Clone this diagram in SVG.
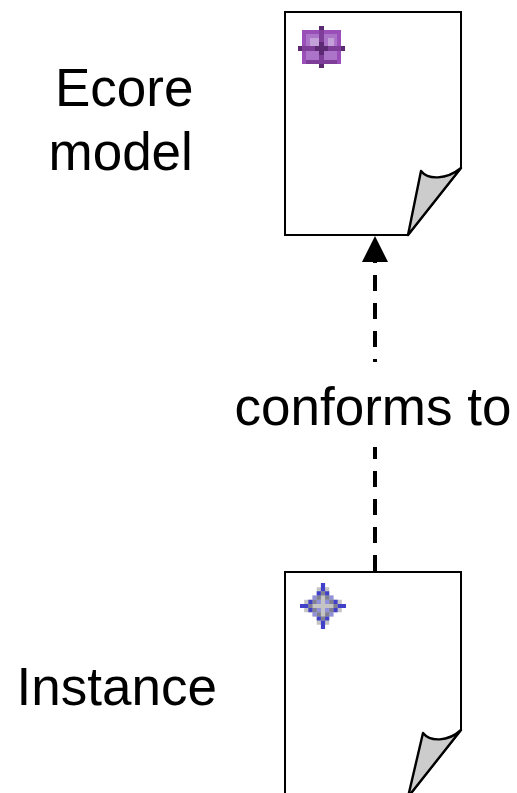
<svg xmlns="http://www.w3.org/2000/svg" width="517" height="793" viewBox="0 0 517 793">
<style>
.lbl{font-family:"Liberation Sans",Arial,sans-serif;font-size:53px;fill:#000}
.page{fill:#fff;stroke:#000;stroke-width:2;stroke-linejoin:miter}
.fold{fill:#ccc;stroke:#000;stroke-width:2.4;stroke-linejoin:round}
.conn{fill:none;stroke:#000;stroke-width:4;stroke-dasharray:16 12}
.pd{fill:#5b2a72}.pm{fill:#7e3d98}.pb{fill:#9a4fb8}.pl{fill:#ac74c8}.pc{fill:#c4a0d8}
.bb{fill:#4040c8}.bg{fill:#808090}.bv{fill:#9090dc}.bl{fill:#c4c4c4}
</style>
<rect width="517" height="793" fill="#fff"/>
<g id="connectors">
<path class="conn" d="M375 571V261"/>
<rect x="225" y="362" width="292" height="85" fill="#fff"/>
<path d="M375 236L388 262H362Z" fill="#000"/>
</g>
<g id="ecore-model">
<path class="page" d="M285 12H461V168L408 235H285Z"/>
<path class="fold" d="M408 235L421 171C428 180 446 180 461 168Z"/>
<g>
<rect class="pb" x="302" y="30" width="39" height="34"/>
<rect class="pl" x="306" y="34" width="13" height="12"/>
<rect class="pl" x="324" y="34" width="13" height="12"/>
<rect class="pl" x="306" y="51" width="13" height="9"/>
<rect class="pl" x="324" y="51" width="13" height="9"/>
<rect class="pc" x="310" y="38" width="9" height="8"/>
<rect class="pc" x="328" y="38" width="6" height="8"/>
<rect class="pm" x="306" y="60" width="31" height="4"/>
<rect class="pm" x="302" y="46" width="39" height="5"/>
<rect class="pm" x="319" y="30" width="5" height="34"/>
<rect class="pd" x="298" y="46" width="4" height="5"/>
<rect class="pd" x="341" y="46" width="4" height="5"/>
<rect class="pd" x="319" y="26" width="5" height="4"/>
<rect class="pd" x="319" y="64" width="5" height="4"/>
<rect class="pd" x="315" y="46" width="13" height="5"/>
<rect class="pd" x="319" y="42" width="5" height="13"/>
</g>
<text class="lbl" x="55" y="105.5">Ecore</text>
<text class="lbl" x="48.5" y="169.5">model</text>
</g>
<g id="instance">
<path class="page" d="M285 572H461V730L408 797H285Z"/>
<path class="fold" d="M408 797L423 733C430 742 448 742 461 730Z"/>
<g transform="translate(300 583) scale(4.18)">
<path class="bl" d="M3 3h5v5h-5zM4 1h3v2h-3zM4 8h3v2h-3zM1 4h2v3h-2zM8 4h2v3h-2z"/>
<path class="bv" d="M3 3h1v1h-1zM7 3h1v1h-1zM4 4h1v1h-1zM6 4h1v1h-1zM4 6h1v1h-1zM6 6h1v1h-1zM3 7h1v1h-1zM7 7h1v1h-1z"/>
<path class="bg" d="M5 2h1v1h-1zM4 3h1v1h-1zM6 3h1v1h-1zM3 4h1v1h-1zM7 4h1v1h-1zM2 5h1v1h-1zM8 5h1v1h-1zM3 6h1v1h-1zM7 6h1v1h-1zM4 7h1v1h-1zM6 7h1v1h-1zM5 8h1v1h-1z"/>
<path class="bb" d="M5 0h1v2h-1zM4 2h1v1h-1zM6 2h1v1h-1zM2 4h1v1h-1zM8 4h1v1h-1zM0 5h2v1h-2zM9 5h2v1h-2zM2 6h1v1h-1zM8 6h1v1h-1zM4 8h1v1h-1zM6 8h1v1h-1zM5 9h1v2h-1z"/>
</g>
<text class="lbl" x="16.5" y="704.5">Instance</text>
</g>
<text id="conforms-to" class="lbl" x="234.5" y="425">conforms to</text>
</svg>
